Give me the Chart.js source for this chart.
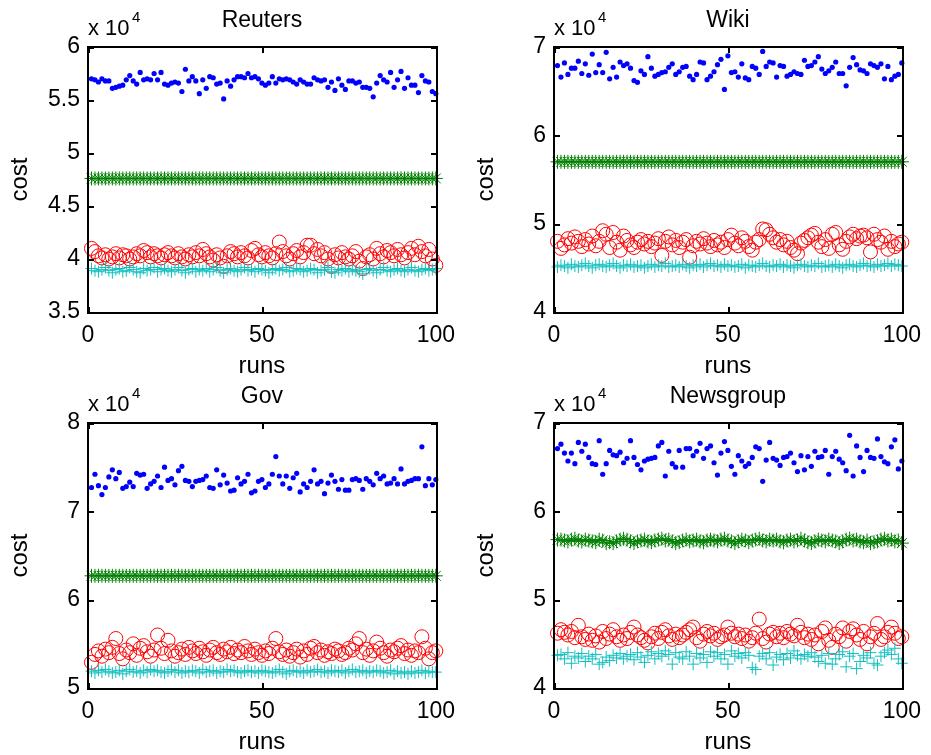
<!DOCTYPE html>
<html>
<head>
<meta charset="utf-8">
<script src="https://cdn.jsdelivr.net/npm/chart.js@4/dist/chart.umd.min.js"></script>
<style>
  body { margin: 0; background: #fff; }
  canvas { position: absolute; }
</style>
</head>
<body>
<canvas id="reuters" width="465" height="377" style="left:0;top:0"></canvas>
<canvas id="wiki" width="465" height="377" style="left:466px;top:0"></canvas>
<canvas id="gov" width="465" height="377" style="left:0;top:376px"></canvas>
<canvas id="news" width="465" height="377" style="left:466px;top:376px"></canvas>
<script>
// costs are in units of 10^4, one value per run
const runs = Array.from({length: 100}, (_, i) => i + 1);
const xTicks = [0, 50, 100];

const reutersBlue = [
  5.70,5.69,5.67,5.70,5.68,5.68,5.61,5.62,5.63,5.64,
  5.69,5.73,5.68,5.65,5.76,5.69,5.70,5.69,5.75,5.69,
  5.76,5.65,5.64,5.66,5.67,5.66,5.58,5.79,5.68,5.72,
  5.68,5.56,5.69,5.61,5.72,5.71,5.65,5.66,5.51,5.68,
  5.63,5.69,5.72,5.72,5.71,5.75,5.71,5.72,5.70,5.66,
  5.64,5.66,5.72,5.66,5.70,5.69,5.70,5.69,5.67,5.65,
  5.69,5.67,5.65,5.65,5.71,5.69,5.68,5.69,5.62,5.67,
  5.59,5.70,5.64,5.60,5.68,5.68,5.66,5.67,5.62,5.62,
  5.61,5.53,5.66,5.73,5.69,5.67,5.76,5.62,5.69,5.77,
  5.61,5.71,5.64,5.64,5.57,5.73,5.68,5.67,5.58,5.56];
const reutersGreen = [
  4.76,4.76,4.76,4.76,4.76,4.76,4.76,4.76,4.76,4.76,
  4.76,4.76,4.76,4.76,4.76,4.76,4.76,4.76,4.76,4.76,
  4.76,4.76,4.76,4.76,4.76,4.76,4.76,4.76,4.76,4.76,
  4.76,4.76,4.76,4.76,4.76,4.76,4.76,4.76,4.76,4.76,
  4.76,4.76,4.76,4.76,4.76,4.76,4.76,4.76,4.76,4.76,
  4.76,4.76,4.76,4.76,4.76,4.76,4.76,4.76,4.76,4.76,
  4.76,4.76,4.76,4.76,4.76,4.76,4.76,4.76,4.76,4.76,
  4.76,4.76,4.76,4.76,4.76,4.76,4.76,4.76,4.76,4.76,
  4.76,4.76,4.76,4.76,4.76,4.76,4.76,4.76,4.76,4.76,
  4.76,4.76,4.76,4.76,4.76,4.76,4.76,4.76,4.76,4.76];
const reutersRed = [
  4.10,4.07,4.03,4.01,4.04,4.00,4.02,4.05,4.01,4.04,
  4.03,4.00,4.02,4.05,4.03,4.08,4.06,4.02,4.05,4.03,
  4.01,4.04,4.06,4.03,4.01,4.05,4.02,4.00,4.04,4.02,
  4.06,4.03,4.09,4.05,4.02,3.99,4.04,4.01,3.93,4.03,
  4.07,4.05,4.02,4.06,4.03,4.01,4.08,4.10,4.04,4.02,
  4.06,4.03,4.01,4.05,4.16,4.07,4.03,4.00,4.05,4.08,
  4.02,4.06,4.13,4.13,4.05,4.09,4.03,4.06,4.00,3.93,
  4.04,4.01,4.06,4.02,4.00,4.03,4.07,3.98,3.91,4.02,
  4.04,4.00,4.10,4.05,4.02,4.08,4.06,4.03,4.09,4.04,
  4.01,4.06,4.10,4.04,4.12,4.07,4.03,4.09,4.00,3.94];
const reutersCyan = [
  3.91,3.89,3.88,3.90,3.92,3.89,3.87,3.90,3.91,3.88,
  3.89,3.92,3.90,3.88,3.87,3.91,3.89,3.90,3.92,3.88,
  3.90,3.91,3.89,3.88,3.90,3.92,3.89,3.87,3.90,3.91,
  3.88,3.90,3.89,3.91,3.88,3.90,3.92,3.89,3.87,3.90,
  3.91,3.89,3.88,3.90,3.92,3.89,3.90,3.88,3.91,3.90,
  3.89,3.87,3.90,3.91,3.89,3.90,3.92,3.88,3.89,3.91,
  3.90,3.88,3.89,3.91,3.90,3.87,3.89,3.90,3.92,3.88,
  3.87,3.90,3.89,3.91,3.88,3.90,3.89,3.88,3.86,3.90,
  3.91,3.89,3.87,3.90,3.92,3.89,3.88,3.90,3.91,3.89,
  3.88,3.90,3.92,3.89,3.88,3.90,3.91,3.89,3.90,3.91];

const wikiBlue = [
  6.79,6.66,6.82,6.69,6.76,6.76,6.84,6.70,6.81,6.68,
  6.92,6.71,6.80,6.71,6.94,6.64,6.77,6.66,6.83,6.79,
  6.81,6.76,6.62,6.60,6.73,6.69,6.89,6.76,6.67,6.69,
  6.71,6.72,6.77,6.81,6.69,6.72,6.77,6.78,6.67,6.63,
  6.69,6.83,6.82,6.63,6.67,6.72,6.80,6.86,6.52,6.90,
  6.71,6.72,6.66,6.81,6.65,6.63,6.78,6.76,6.69,6.95,
  6.78,6.83,6.82,6.66,6.79,6.78,6.67,6.69,6.72,6.70,
  6.69,6.85,6.78,6.79,6.83,6.89,6.75,6.70,6.73,6.77,
  6.83,6.70,6.70,6.56,6.77,6.88,6.80,6.74,6.73,6.70,
  6.81,6.79,6.77,6.81,6.64,6.78,6.63,6.67,6.69,6.82];
const wikiGreen = [
  5.70,5.70,5.70,5.70,5.70,5.70,5.70,5.70,5.70,5.70,
  5.70,5.70,5.70,5.70,5.70,5.70,5.70,5.70,5.70,5.70,
  5.70,5.70,5.70,5.70,5.70,5.70,5.70,5.70,5.70,5.70,
  5.70,5.70,5.70,5.70,5.70,5.70,5.70,5.70,5.70,5.70,
  5.70,5.70,5.70,5.70,5.70,5.70,5.70,5.70,5.70,5.70,
  5.70,5.70,5.70,5.70,5.70,5.70,5.70,5.70,5.70,5.70,
  5.70,5.70,5.70,5.70,5.70,5.70,5.70,5.70,5.70,5.70,
  5.70,5.70,5.70,5.70,5.70,5.70,5.70,5.70,5.70,5.70,
  5.70,5.70,5.70,5.70,5.70,5.70,5.70,5.70,5.70,5.70,
  5.70,5.70,5.70,5.70,5.70,5.70,5.70,5.70,5.70,5.70];
const wikiRed = [
  4.80,4.72,4.76,4.83,4.78,4.85,4.80,4.74,4.82,4.77,
  4.86,4.75,4.80,4.92,4.88,4.73,4.90,4.79,4.70,4.86,
  4.81,4.76,4.73,4.79,4.82,4.77,4.80,4.74,4.78,4.83,
  4.64,4.80,4.85,4.76,4.81,4.73,4.79,4.82,4.62,4.75,
  4.80,4.77,4.83,4.78,4.74,4.81,4.76,4.79,4.73,4.82,
  4.87,4.78,4.75,4.84,4.80,4.74,4.70,4.79,4.82,4.94,
  4.93,4.88,4.84,4.79,4.82,4.76,4.80,4.73,4.70,4.66,
  4.78,4.81,4.84,4.87,4.89,4.79,4.74,4.82,4.72,4.88,
  4.90,4.76,4.71,4.80,4.85,4.88,4.83,4.86,4.87,4.84,
  4.68,4.88,4.82,4.79,4.86,4.71,4.80,4.74,4.77,4.79];
const wikiCyan = [
  4.51,4.53,4.52,4.50,4.54,4.52,4.51,4.53,4.55,4.52,
  4.50,4.53,4.54,4.52,4.51,4.53,4.55,4.52,4.50,4.53,
  4.52,4.54,4.51,4.52,4.53,4.50,4.52,4.54,4.51,4.53,
  4.52,4.55,4.51,4.52,4.53,4.51,4.54,4.52,4.50,4.53,
  4.52,4.54,4.51,4.53,4.55,4.52,4.53,4.51,4.54,4.52,
  4.53,4.51,4.52,4.54,4.50,4.53,4.52,4.51,4.53,4.55,
  4.52,4.51,4.53,4.52,4.54,4.51,4.53,4.52,4.50,4.53,
  4.54,4.52,4.51,4.53,4.52,4.55,4.51,4.52,4.53,4.51,
  4.54,4.52,4.50,4.53,4.54,4.52,4.51,4.53,4.55,4.52,
  4.53,4.51,4.54,4.52,4.53,4.55,4.52,4.54,4.53,4.52];

const govBlue = [
  7.27,7.42,7.29,7.19,7.27,7.39,7.47,7.37,7.44,7.26,
  7.28,7.33,7.28,7.43,7.41,7.42,7.26,7.31,7.34,7.40,
  7.27,7.50,7.35,7.37,7.30,7.46,7.51,7.35,7.34,7.28,
  7.34,7.35,7.36,7.40,7.27,7.26,7.47,7.30,7.41,7.32,
  7.23,7.24,7.38,7.31,7.34,7.42,7.21,7.23,7.34,7.36,
  7.27,7.31,7.42,7.62,7.40,7.31,7.40,7.26,7.38,7.43,
  7.22,7.31,7.27,7.34,7.47,7.31,7.34,7.20,7.32,7.41,
  7.34,7.25,7.36,7.24,7.24,7.36,7.37,7.35,7.25,7.37,
  7.34,7.30,7.43,7.37,7.40,7.31,7.32,7.37,7.31,7.48,
  7.31,7.34,7.35,7.37,7.37,7.73,7.29,7.37,7.30,7.36];
const govGreen = [
  6.27,6.27,6.27,6.27,6.27,6.27,6.27,6.27,6.27,6.27,
  6.27,6.27,6.27,6.27,6.27,6.27,6.27,6.27,6.27,6.27,
  6.27,6.27,6.27,6.27,6.27,6.27,6.27,6.27,6.27,6.27,
  6.27,6.27,6.27,6.27,6.27,6.27,6.27,6.27,6.27,6.27,
  6.27,6.27,6.27,6.27,6.27,6.27,6.27,6.27,6.27,6.27,
  6.27,6.27,6.27,6.27,6.27,6.27,6.27,6.27,6.27,6.27,
  6.27,6.27,6.27,6.27,6.27,6.27,6.27,6.27,6.27,6.27,
  6.27,6.27,6.27,6.27,6.27,6.27,6.27,6.27,6.27,6.27,
  6.27,6.27,6.27,6.27,6.27,6.27,6.27,6.27,6.27,6.27,
  6.27,6.27,6.27,6.27,6.27,6.27,6.27,6.27,6.27,6.27];
const govRed = [
  5.29,5.38,5.42,5.36,5.44,5.40,5.46,5.56,5.39,5.33,
  5.43,5.40,5.50,5.37,5.45,5.48,5.41,5.36,5.43,5.60,
  5.45,5.39,5.54,5.42,5.36,5.40,5.44,5.38,5.46,5.42,
  5.39,5.45,5.41,5.37,5.43,5.46,5.40,5.38,5.44,5.41,
  5.46,5.39,5.43,5.40,5.47,5.42,5.38,5.44,5.40,5.37,
  5.42,5.39,5.45,5.56,5.41,5.38,5.43,5.36,5.40,5.44,
  5.35,5.42,5.38,5.45,5.47,5.40,5.43,5.37,5.41,5.39,
  5.44,5.42,5.38,5.40,5.45,5.43,5.50,5.56,5.40,5.44,
  5.37,5.42,5.52,5.45,5.40,5.36,5.43,5.41,5.45,5.48,
  5.39,5.43,5.37,5.42,5.40,5.58,5.45,5.33,5.40,5.42];
const govCyan = [
  5.19,5.17,5.20,5.18,5.21,5.19,5.17,5.18,5.20,5.16,
  5.19,5.21,5.18,5.19,5.17,5.20,5.18,5.21,5.19,5.20,
  5.18,5.17,5.19,5.21,5.18,5.20,5.17,5.19,5.18,5.20,
  5.19,5.17,5.21,5.18,5.19,5.20,5.17,5.19,5.18,5.21,
  5.19,5.20,5.18,5.17,5.19,5.20,5.18,5.19,5.17,5.20,
  5.19,5.18,5.17,5.19,5.21,5.18,5.16,5.19,5.20,5.18,
  5.19,5.17,5.20,5.18,5.19,5.21,5.18,5.19,5.17,5.20,
  5.19,5.18,5.20,5.17,5.19,5.21,5.18,5.19,5.20,5.17,
  5.19,5.18,5.20,5.19,5.17,5.18,5.20,5.16,5.19,5.17,
  5.18,5.16,5.19,5.17,5.18,5.20,5.17,5.19,5.18,5.18];

const newsBlue = [
  6.71,6.76,6.66,6.57,6.66,6.54,6.78,6.68,6.76,6.61,
  6.54,6.53,6.80,6.42,6.54,6.69,6.64,6.63,6.67,6.55,
  6.60,6.80,6.61,6.53,6.47,6.57,6.59,6.60,6.61,6.74,
  6.78,6.40,6.68,6.54,6.50,6.69,6.50,6.71,6.71,6.63,
  6.68,6.77,6.60,6.71,6.74,6.55,6.41,6.66,6.79,6.69,
  6.51,6.42,6.63,6.57,6.51,6.54,6.61,6.73,6.71,6.34,
  6.58,6.78,6.60,6.58,6.52,6.61,6.62,6.66,6.55,6.45,
  6.63,6.47,6.62,6.51,6.68,6.61,6.62,6.69,6.42,6.62,
  6.68,6.59,6.55,6.46,6.86,6.40,6.74,6.61,6.45,6.69,
  6.61,6.60,6.82,6.62,6.56,6.54,6.73,6.81,6.48,6.57];
const newsGreen = [
  5.68,5.68,5.67,5.66,5.68,5.69,5.67,5.66,5.68,5.67,
  5.66,5.65,5.68,5.67,5.64,5.65,5.64,5.66,5.68,5.69,
  5.68,5.66,5.64,5.66,5.67,5.68,5.66,5.65,5.67,5.68,
  5.69,5.67,5.68,5.66,5.64,5.65,5.67,5.68,5.66,5.67,
  5.68,5.66,5.65,5.67,5.68,5.67,5.66,5.68,5.69,5.67,
  5.66,5.64,5.66,5.68,5.67,5.65,5.67,5.68,5.69,5.67,
  5.66,5.68,5.67,5.68,5.66,5.65,5.67,5.68,5.66,5.67,
  5.69,5.67,5.65,5.64,5.66,5.68,5.67,5.66,5.68,5.67,
  5.66,5.64,5.66,5.68,5.69,5.67,5.68,5.66,5.65,5.67,
  5.64,5.65,5.66,5.68,5.69,5.67,5.68,5.66,5.67,5.64];
const newsRed = [
  4.62,4.66,4.63,4.60,4.64,4.57,4.71,4.58,4.55,4.61,
  4.54,4.59,4.52,4.64,4.56,4.61,4.66,4.58,4.54,4.60,
  4.56,4.63,4.69,4.60,4.57,4.54,4.51,4.58,4.62,4.56,
  4.63,4.66,4.59,4.55,4.61,4.57,4.60,4.63,4.66,4.69,
  4.57,4.53,4.61,4.64,4.59,4.62,4.55,4.58,4.60,4.69,
  4.62,4.58,4.61,4.56,4.60,4.53,4.57,4.62,4.78,4.56,
  4.52,4.61,4.63,4.58,4.62,4.57,4.64,4.61,4.59,4.71,
  4.63,4.57,4.61,4.55,4.60,4.50,4.64,4.68,4.54,4.46,
  4.61,4.58,4.68,4.53,4.64,4.67,4.60,4.55,4.64,4.50,
  4.58,4.62,4.73,4.55,4.58,4.63,4.69,4.62,4.56,4.58];
const newsCyan = [
  4.37,4.38,4.33,4.40,4.28,4.36,4.34,4.39,4.30,4.36,
  4.33,4.38,4.27,4.29,4.35,4.31,4.37,4.34,4.39,4.33,
  4.36,4.38,4.32,4.40,4.35,4.29,4.37,4.41,4.33,4.39,
  4.36,4.42,4.38,4.27,4.40,4.35,4.33,4.41,4.36,4.27,
  4.39,4.34,4.38,4.29,4.41,4.36,4.40,4.33,4.38,4.27,
  4.42,4.36,4.39,4.34,4.40,4.37,4.23,4.21,4.36,4.39,
  4.33,4.40,4.26,4.35,4.38,4.32,4.39,4.34,4.42,4.37,
  4.33,4.38,4.36,4.40,4.35,4.30,4.37,4.28,4.39,4.27,
  4.33,4.38,4.41,4.24,4.36,4.39,4.22,4.30,4.37,4.34,
  4.40,4.28,4.26,4.36,4.40,4.43,4.38,4.45,4.33,4.28];

const FONT = '"Liberation Sans", Arial, Helvetica, sans-serif';
Chart.defaults.font.family = FONT;
Chart.defaults.color = '#000';

// box round the axes with short inward ticks, the panel title and the "x 10^4" note
const matlabBox = {
  id: 'matlabBox',
  afterDraw(chart, args, opts) {
    const {ctx, chartArea: a, scales} = chart;
    const L = Math.round(a.left), R = Math.round(a.right);
    const T = Math.round(a.top), B = Math.round(a.bottom);
    ctx.save();
    ctx.fillStyle = '#000';
    ctx.fillRect(L - 1, T - 1, R - L + 3, 2);
    ctx.fillRect(L - 1, B, R - L + 3, 2);
    ctx.fillRect(L - 1, T - 1, 2, B - T + 3);
    ctx.fillRect(R, T - 1, 2, B - T + 3);
    scales.x.ticks.forEach(t => {
      const px = Math.round(scales.x.getPixelForValue(t.value));
      ctx.fillRect(px, B - 5, 2, 5);
      ctx.fillRect(px, T + 1, 2, 5);
    });
    scales.y.ticks.forEach(t => {
      const py = Math.round(scales.y.getPixelForValue(t.value));
      ctx.fillRect(L + 1, py, 5, 2);
      ctx.fillRect(R - 5, py, 5, 2);
    });

    ctx.textAlign = 'center';
    ctx.textBaseline = 'middle';
    ctx.font = '23px ' + FONT;
    ctx.fillText(opts.text, (a.left + a.right) / 2, 21);

    ctx.textBaseline = 'alphabetic';
    ctx.textAlign = 'left';
    ctx.font = '22px ' + FONT;
    ctx.fillText('x 10', a.left, a.top - 12);
    ctx.font = '15px ' + FONT;
    ctx.fillText('4', a.left + 44, a.top - 25);
    ctx.restore();
  }
};

function makePanel(id, title, yMin, yMax, yStep, blue, green, red, cyan) {
  const pts = arr => runs.map((r, i) => ({x: r, y: arr[i]}));
  new Chart(document.getElementById(id), {
    type: 'scatter',
    data: {
      datasets: [
        {data: pts(cyan), pointStyle: 'cross', pointRadius: 6, borderColor: '#10bfbf', pointBorderWidth: 1, clip: false},
        {data: pts(red), pointStyle: 'circle', pointRadius: 7, borderColor: '#ff0000', backgroundColor: 'rgba(0,0,0,0)', pointBorderWidth: 1, clip: false},
        {data: pts(green), pointStyle: 'star', pointRadius: 7, borderColor: '#008000', pointBorderWidth: 1, clip: false},
        {data: pts(blue), pointStyle: 'circle', pointRadius: 2.6, borderColor: '#0000ff', backgroundColor: '#0000ff', pointBorderWidth: 0, clip: false}
      ]
    },
    options: {
      responsive: false,
      animation: false,
      events: [],
      layout: {padding: {left: 0, right: 25, top: 47, bottom: 0}},
      plugins: {
        legend: {display: false},
        tooltip: {enabled: false},
        title: {display: false},
        matlabBox: {text: title}
      },
      scales: {
        x: {
          type: 'linear',
          min: 0, max: 100,
          afterBuildTicks: s => { s.ticks = xTicks.map(v => ({value: v})); },
          afterFit: s => { s.height = 65; },
          grid: {display: false, drawTicks: false},
          border: {display: false},
          ticks: {font: {size: 23}, padding: 10, maxRotation: 0},
          title: {display: true, text: 'runs', font: {size: 24, lineHeight: 0.85}, padding: {top: 0, bottom: 0}}
        },
        y: {
          min: yMin, max: yMax,
          ticks: {stepSize: yStep, font: {size: 23}, padding: 8,
                  callback: v => String(Number(v.toFixed(2)))},
          afterFit: s => { s.width = 88; },
          grid: {display: false, drawTicks: false},
          border: {display: false},
          title: {display: true, text: 'cost', font: {size: 24, lineHeight: 1}, padding: {top: 8, bottom: 0}}
        }
      }
    },
    plugins: [matlabBox]
  });
}

makePanel('reuters', 'Reuters', 3.5, 6, 0.5, reutersBlue, reutersGreen, reutersRed, reutersCyan);
makePanel('wiki', 'Wiki', 4, 7, 1, wikiBlue, wikiGreen, wikiRed, wikiCyan);
makePanel('gov', 'Gov', 5, 8, 1, govBlue, govGreen, govRed, govCyan);
makePanel('news', 'Newsgroup', 4, 7, 1, newsBlue, newsGreen, newsRed, newsCyan);
</script>
</body>
</html>
